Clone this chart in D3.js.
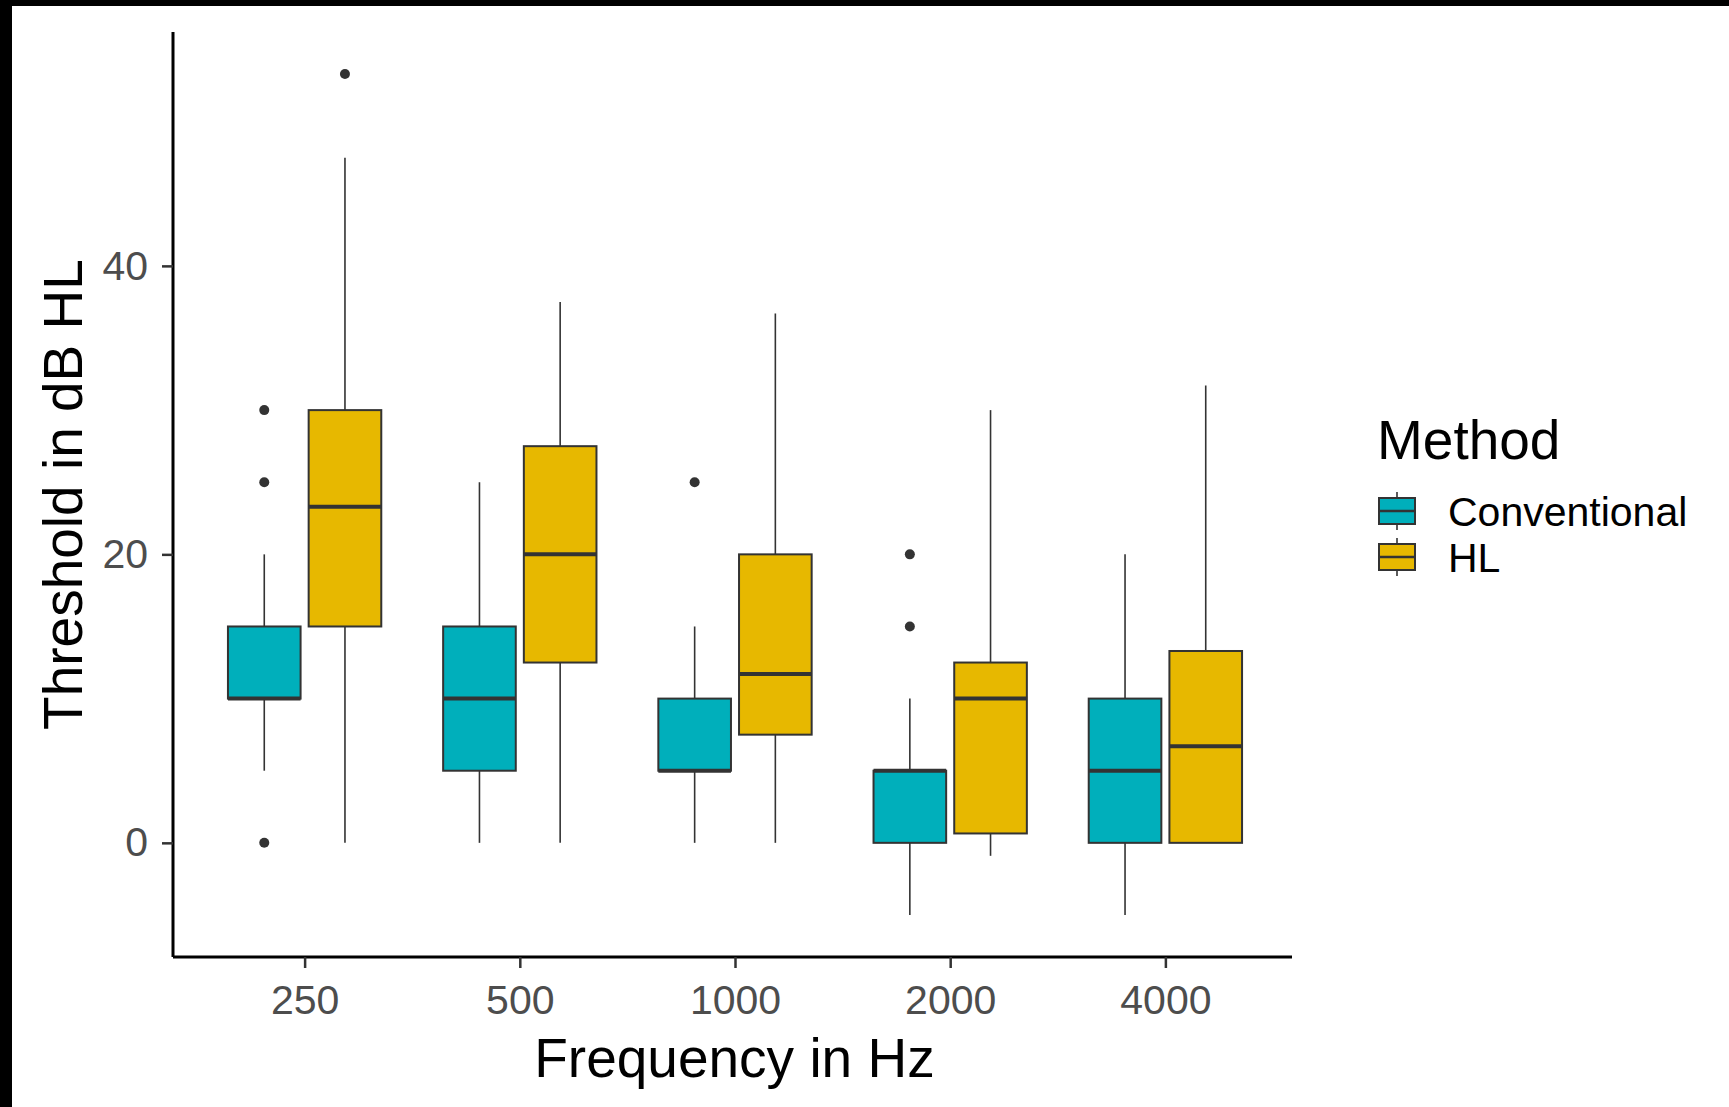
<!DOCTYPE html>
<html>
<head>
<meta charset="utf-8">
<script src="https://cdn.jsdelivr.net/npm/d3@7"></script>
<style>
  html, body { margin: 0; padding: 0; background: #fff; }
  svg { display: block; font-family: "Liberation Sans", Arial, sans-serif; }
</style>
</head>
<body>
<div id="chart"></div>
<script>
// Categories and groups
const frequencies = ["250", "500", "1000", "2000", "4000"];
const methods = ["Conventional", "HL"];
const methodColors = ["#00AFBB", "#E7B800"];
const yTicks = [0, 20, 40];

// Conventional: box stats per frequency
const convLow = [5, 0, 0, -5, -5];
const convQ1 = [10, 5, 5, 0, 0];
const convMed = [10, 10, 5, 5, 5];
const convQ3 = [15, 15, 10, 5, 10];
const convHigh = [20, 25, 15, 10, 20];
const convOutliers = [[0, 25, 30], [], [25], [15, 20], []];

// HL: box stats per frequency
const hlLow = [0, 0, 0, -0.9, 0];
const hlQ1 = [15, 12.5, 7.5, 0.65, 0];
const hlMed = [23.3, 20, 11.7, 10, 6.7];
const hlQ3 = [30, 27.5, 20, 12.5, 13.3];
const hlHigh = [47.5, 37.5, 36.7, 30, 31.7];
const hlOutliers = [[53.3], [], [], [], []];

const width = 1729, height = 1107;
const panel = { left: 173, right: 1292, top: 32, bottom: 957 };

// build box rows from the arrays
const boxes = [];
frequencies.forEach((f, i) => {
    boxes.push({ freq: f, method: 0, low: convLow[i], q1: convQ1[i], med: convMed[i], q3: convQ3[i], high: convHigh[i], out: convOutliers[i] });
    boxes.push({ freq: f, method: 1, low: hlLow[i], q1: hlQ1[i], med: hlMed[i], q3: hlQ3[i], high: hlHigh[i], out: hlOutliers[i] });
});

const svg = d3.select("#chart").append("svg")
    .attr("width", width)
    .attr("height", height);

svg.append("rect").attr("width", width).attr("height", height).attr("fill", "#fff");

// slight offset to line up with the reference tick positions
const x = d3.scalePoint()
    .domain(frequencies)
    .range([panel.left + 2.5, panel.right + 2.5])
    .padding(0.6);

// data range with 5% expansion, like ggplot
const yMin = -5, yMax = 53.3, pad = (yMax - yMin) * 0.05;
const y = d3.scaleLinear()
    .domain([yMin - pad, yMax + pad])
    .range([panel.bottom, panel.top]);

const step = x.step();
const boxW = step * 0.3375;
const dodge = step * 0.1875;
const cx = d => x(d.freq) + (d.method === 0 ? -dodge : dodge);

const g = svg.append("g");

// whiskers
g.selectAll("line.whisk-hi").data(boxes).join("line")
    .attr("x1", cx).attr("x2", cx)
    .attr("y1", d => y(d.q3)).attr("y2", d => y(d.high))
    .attr("stroke", "#333").attr("stroke-width", 1.6);
g.selectAll("line.whisk-lo").data(boxes).join("line")
    .attr("x1", cx).attr("x2", cx)
    .attr("y1", d => y(d.q1)).attr("y2", d => y(d.low))
    .attr("stroke", "#333").attr("stroke-width", 1.6);

// boxes
g.selectAll("rect.box").data(boxes).join("rect")
    .attr("x", d => cx(d) - boxW / 2)
    .attr("width", boxW)
    .attr("y", d => y(d.q3))
    .attr("height", d => y(d.q1) - y(d.q3))
    .attr("fill", d => methodColors[d.method])
    .attr("stroke", "#333").attr("stroke-width", 2);

// medians
g.selectAll("line.med").data(boxes).join("line")
    .attr("x1", d => cx(d) - boxW / 2).attr("x2", d => cx(d) + boxW / 2)
    .attr("y1", d => y(d.med)).attr("y2", d => y(d.med))
    .attr("stroke", "#333").attr("stroke-width", 4);

// outliers
const outPts = boxes.flatMap(d => d.out.map(v => ({ x: cx(d), v })));
g.selectAll("circle").data(outPts).join("circle")
    .attr("cx", d => d.x).attr("cy", d => y(d.v))
    .attr("r", 5).attr("fill", "#333");

// axes
const xAxis = svg.append("g")
    .attr("transform", `translate(0,${panel.bottom})`)
    .call(d3.axisBottom(x).tickSize(11).tickPadding(17));
const yAxis = svg.append("g")
    .attr("transform", `translate(${panel.left},0)`)
    .call(d3.axisLeft(y).tickValues(yTicks).tickSize(11).tickPadding(14));

[xAxis, yAxis].forEach(a => {
    a.select(".domain").attr("stroke", "#000").attr("stroke-width", 3);
    a.selectAll(".tick line").attr("stroke", "#333").attr("stroke-width", 2.5);
    a.selectAll(".tick text").attr("fill", "#4d4d4d").attr("font-size", 41)
        .attr("font-family", "Liberation Sans, Arial, sans-serif");
});
xAxis.select(".domain").attr("d", `M${panel.left},0H${panel.right}`);
yAxis.select(".domain").attr("d", `M0,${panel.top}V${panel.bottom}`);

// axis titles
svg.append("text")
    .attr("x", (panel.left + panel.right) / 2 + 2).attr("y", 1077)
    .attr("text-anchor", "middle").attr("font-size", 55).attr("fill", "#000")
    .text("Frequency in Hz");
svg.append("text")
    .attr("transform", `translate(82,${(panel.top + panel.bottom) / 2}) rotate(-90)`)
    .attr("text-anchor", "middle").attr("font-size", 55).attr("fill", "#000")
    .text("Threshold in dB HL");

// legend
const legend = svg.append("g").attr("transform", "translate(1377,0)");
legend.append("text").attr("x", 0).attr("y", 459)
    .attr("font-size", 55).attr("fill", "#000").text("Method");
methods.forEach((m, i) => {
    const ky = 511 + i * 46;
    const key = legend.append("g");
    key.append("line").attr("x1", 20).attr("x2", 20)
        .attr("y1", ky - 19).attr("y2", ky + 19)
        .attr("stroke", "#333").attr("stroke-width", 1.6);
    key.append("rect").attr("x", 2).attr("y", ky - 13).attr("width", 36).attr("height", 26)
        .attr("fill", methodColors[i]).attr("stroke", "#333").attr("stroke-width", 2);
    key.append("line").attr("x1", 2).attr("x2", 38).attr("y1", ky).attr("y2", ky)
        .attr("stroke", "#333").attr("stroke-width", 2.5);
    legend.append("text").attr("x", 71).attr("y", ky + 15)
        .attr("font-size", 41).attr("fill", "#000").text(m);
});

// black frame strips along the top and left edges
svg.append("rect").attr("x", 0).attr("y", 0).attr("width", width).attr("height", 6).attr("fill", "#000");
svg.append("rect").attr("x", 0).attr("y", 0).attr("width", 12).attr("height", height).attr("fill", "#000");
</script>
</body>
</html>
